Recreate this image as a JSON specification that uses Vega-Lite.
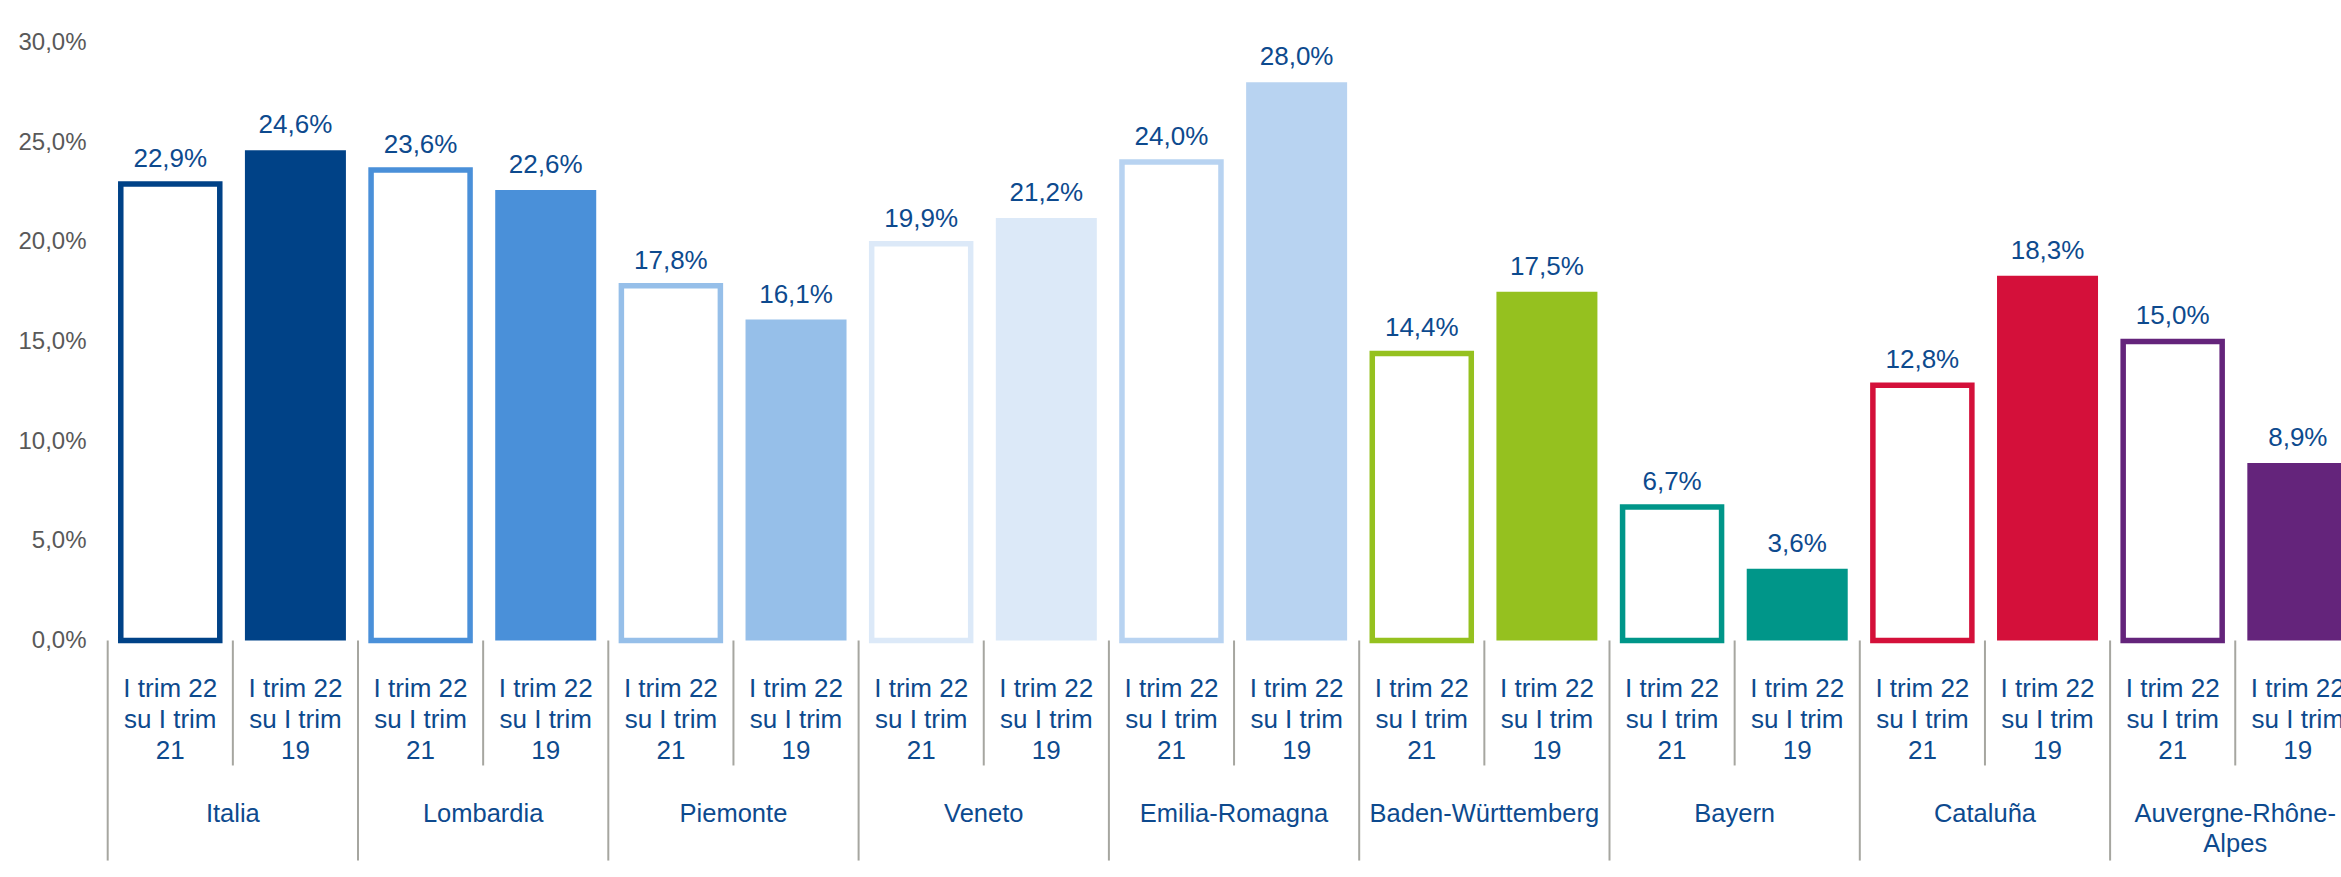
{
  "$schema": "https://vega.github.io/schema/vega-lite/v6.json",
  "width": 2252.7,
  "height": 834.5,
  "autosize": {"type": "none"},
  "padding": {"left": 107.7, "top": 42.5, "right": -19.4, "bottom": 0},
  "background": "white",
  "config": {
    "view": {"stroke": null},
    "font": "Liberation Sans"
  },
  "data": {
    "values": [
      {"region": "Italia", "period": "21", "key": "Italia|21", "value": 0.229},
      {"region": "Italia", "period": "19", "key": "Italia|19", "value": 0.246},
      {"region": "Lombardia", "period": "21", "key": "Lombardia|21", "value": 0.236},
      {"region": "Lombardia", "period": "19", "key": "Lombardia|19", "value": 0.226},
      {"region": "Piemonte", "period": "21", "key": "Piemonte|21", "value": 0.178},
      {"region": "Piemonte", "period": "19", "key": "Piemonte|19", "value": 0.161},
      {"region": "Veneto", "period": "21", "key": "Veneto|21", "value": 0.199},
      {"region": "Veneto", "period": "19", "key": "Veneto|19", "value": 0.212},
      {"region": "Emilia-Romagna", "period": "21", "key": "Emilia-Romagna|21", "value": 0.240},
      {"region": "Emilia-Romagna", "period": "19", "key": "Emilia-Romagna|19", "value": 0.280},
      {"region": "Baden-Württemberg", "period": "21", "key": "Baden-Württemberg|21", "value": 0.144},
      {"region": "Baden-Württemberg", "period": "19", "key": "Baden-Württemberg|19", "value": 0.175},
      {"region": "Bayern", "period": "21", "key": "Bayern|21", "value": 0.067},
      {"region": "Bayern", "period": "19", "key": "Bayern|19", "value": 0.036},
      {"region": "Cataluña", "period": "21", "key": "Cataluña|21", "value": 0.128},
      {"region": "Cataluña", "period": "19", "key": "Cataluña|19", "value": 0.183},
      {"region": "Auvergne-Rhône-Alpes", "period": "21", "key": "Auvergne-Rhône-Alpes|21", "value": 0.150},
      {"region": "Auvergne-Rhône-Alpes", "period": "19", "key": "Auvergne-Rhône-Alpes|19", "value": 0.089}
    ]
  },
  "encoding": {
    "x": {
      "field": "key",
      "type": "nominal",
      "sort": null,
      "scale": {
        "domain": ["Italia|21", "Italia|19", "Lombardia|21", "Lombardia|19", "Piemonte|21", "Piemonte|19", "Veneto|21", "Veneto|19", "Emilia-Romagna|21", "Emilia-Romagna|19", "Baden-Württemberg|21", "Baden-Württemberg|19", "Bayern|21", "Bayern|19", "Cataluña|21", "Cataluña|19", "Auvergne-Rhône-Alpes|21", "Auvergne-Rhône-Alpes|19"],
        "paddingInner": 0,
        "paddingOuter": 0
      },
      "axis": null
    }
  },
  "layer": [
    {
      "transform": [{"filter": "datum.period == '19'"}],
      "mark": {"type": "bar", "width": 101},
      "encoding": {
        "y": {
          "field": "value",
          "type": "quantitative",
          "scale": {"domain": [-0.11865, 0.3], "nice": false, "zero": false},
          "axis": {
            "title": null,
            "values": [0, 0.05, 0.1, 0.15, 0.2, 0.25, 0.3],
            "labelExpr": "replace(format(datum.value, '.1%'), '.', ',')",
            "domain": false,
            "ticks": false,
            "grid": false,
            "labelPadding": 21.7,
            "labelFontSize": 24,
            "labelColor": "#595959"
          }
        },
        "y2": {"datum": 0},
        "fill": {
          "field": "region",
          "type": "nominal",
          "legend": null,
          "scale": {
            "domain": ["Italia", "Lombardia", "Piemonte", "Veneto", "Emilia-Romagna", "Baden-Württemberg", "Bayern", "Cataluña", "Auvergne-Rhône-Alpes"],
            "range": ["#004287", "#4A90D9", "#96BFE9", "#DCE9F8", "#B8D3F1", "#95C11F", "#009689", "#D4103A", "#64247B"]
          }
        }
      }
    },
    {
      "transform": [{"filter": "datum.period == '21'"}],
      "mark": {"type": "bar", "width": 99, "fill": "white", "strokeWidth": 5.5},
      "encoding": {
        "y": {"field": "value", "type": "quantitative"},
        "y2": {"datum": 0},
        "stroke": {
          "field": "region",
          "type": "nominal",
          "legend": null,
          "scale": {
            "domain": ["Italia", "Lombardia", "Piemonte", "Veneto", "Emilia-Romagna", "Baden-Württemberg", "Bayern", "Cataluña", "Auvergne-Rhône-Alpes"],
            "range": ["#004287", "#4A90D9", "#96BFE9", "#DCE9F8", "#B8D3F1", "#95C11F", "#009689", "#D4103A", "#64247B"]
          }
        }
      }
    },
    {
      "transform": [{"calculate": "replace(format(datum.value, '.1%'), '.', ',')", "as": "label"}],
      "mark": {"type": "text", "baseline": "alphabetic", "align": "center", "dy": -17, "fontSize": 26, "color": "#0D4A8E"},
      "encoding": {
        "y": {"field": "value", "type": "quantitative"},
        "text": {"field": "label", "type": "nominal"}
      }
    },
    {
      "mark": {"type": "rule", "color": "#a6a6a0", "strokeWidth": 2},
      "encoding": {
        "y": {"datum": 0}
      }
    },
    {
      "transform": [{"filter": "datum.period == '19'"}],
      "mark": {"type": "rule", "color": "#a6a6a0", "strokeWidth": 2},
      "encoding": {
        "x": {"field": "key", "type": "nominal", "bandPosition": 0},
        "y": {"datum": 0},
        "y2": {"datum": -0.0627}
      }
    },
    {
      "transform": [{"filter": "datum.period == '21'"}],
      "mark": {"type": "rule", "color": "#a6a6a0", "strokeWidth": 2},
      "encoding": {
        "x": {"field": "key", "type": "nominal", "bandPosition": 0},
        "y": {"datum": 0},
        "y2": {"datum": -0.1104}
      }
    },
    {
      "transform": [{"calculate": "['I trim 22', 'su I trim', datum.period]", "as": "ticklabel"}],
      "mark": {"type": "text", "baseline": "alphabetic", "align": "center", "fontSize": 26, "lineHeight": 31, "color": "#0D4A8E"},
      "encoding": {
        "y": {"datum": -0.0282},
        "text": {"field": "ticklabel"}
      }
    },
    {
      "transform": [
        {"filter": "datum.period == '21'"},
        {"calculate": "datum.region == 'Auvergne-Rhône-Alpes' ? ['Auvergne-Rhône-', 'Alpes'] : datum.region", "as": "grouplabel"}
      ],
      "mark": {"type": "text", "baseline": "alphabetic", "align": "center", "fontSize": 25.5, "lineHeight": 30, "color": "#0D4A8E"},
      "encoding": {
        "x": {"field": "key", "type": "nominal", "bandPosition": 1},
        "y": {"datum": -0.0909},
        "text": {"field": "grouplabel"}
      }
    }
  ]
}
